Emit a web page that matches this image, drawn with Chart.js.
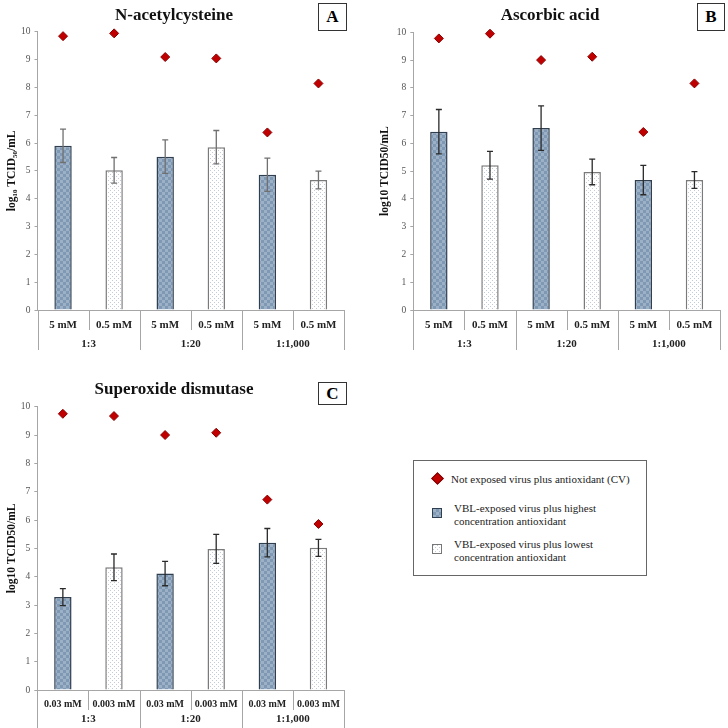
<!DOCTYPE html>
<html>
<head>
<meta charset="utf-8">
<script src="https://cdn.jsdelivr.net/npm/chart.js@4.4.1/dist/chart.umd.min.js"></script>
<style>
body{margin:0;background:#fff;width:728px;height:728px;position:relative;overflow:hidden;font-family:"Liberation Serif",serif}
.panel{position:absolute}
.ttl{position:absolute;font-weight:bold;font-size:17px;transform:translate(-50%,-50%);white-space:nowrap;color:#111}
.tag{position:absolute;border:1.5px solid #333;font-weight:bold;font-size:17px;display:flex;align-items:center;justify-content:center;box-sizing:border-box;background:#fff}
#legend{position:absolute;left:413px;top:460px;width:234px;height:116px;border:1px solid #666;box-sizing:border-box;font-size:11px;color:#222;line-height:12.5px}
#legend .row{position:absolute;left:0;width:100%}
#legend .sw{position:absolute;left:18px;width:10px;height:10px;box-sizing:border-box}
#legend .tx{position:absolute;left:40px}
</style>
</head>
<body>

<div class="panel" style="left:0;top:0"><canvas id="chartA" width="364" height="360"></canvas></div>
<div class="panel" style="left:364px;top:0"><canvas id="chartB" width="364" height="360"></canvas></div>
<div class="panel" style="left:0;top:364px"><canvas id="chartC" width="364" height="364"></canvas></div>

<div class="ttl" style="left:174px;top:15px">N-acetylcysteine</div>
<div class="ttl" style="left:550px;top:15px">Ascorbic acid</div>
<div class="ttl" style="left:174px;top:389px">Superoxide dismutase</div>
<div class="tag" style="left:318px;top:3px;width:29px;height:28px">A</div>
<div class="tag" style="left:697px;top:3px;width:28px;height:28px">B</div>
<div class="tag" style="left:318px;top:382px;width:29px;height:23px">C</div>

<div id="legend">
  <div class="row" style="top:12px">
    <div class="sw" style="left:19px;top:1px;width:9px;height:9px;background:#c00000;border:1px solid #7a0000;transform:rotate(45deg)"></div>
    <div class="tx" style="left:37px">Not exposed virus plus antioxidant (CV)</div>
  </div>
  <div class="row" style="top:41px">
    <div class="sw" id="swHigh" style="top:6px;border:1px solid #2f3f50"></div>
    <div class="tx">VBL-exposed virus plus highest<br>concentration antioxidant</div>
  </div>
  <div class="row" style="top:77px">
    <div class="sw" id="swLow" style="top:6px;border:1px solid #777"></div>
    <div class="tx">VBL-exposed virus plus lowest<br>concentration antioxidant</div>
  </div>
</div>

<script>
// dilution groups and concentrations
var groups = ['1:3', '1:20', '1:1,000'];
var naLabels = ['5 mM', '0.5 mM', '5 mM', '0.5 mM', '5 mM', '0.5 mM'];
var aaLabels = ['5 mM', '0.5 mM', '5 mM', '0.5 mM', '5 mM', '0.5 mM'];
var sodLabels = ['0.03 mM', '0.003 mM', '0.03 mM', '0.003 mM', '0.03 mM', '0.003 mM'];

// A - N-acetylcysteine
var naBars = [5.90, 5.02, 5.51, 5.85, 4.86, 4.67];
var naErr  = [0.60, 0.46, 0.60, 0.60, 0.60, 0.32];
var naCV   = [9.84, 9.94, 9.09, 9.04, 6.38, 8.14];
// B - Ascorbic acid
var aaBars = [6.42, 5.21, 6.55, 4.97, 4.68, 4.68];
var aaErr  = [0.80, 0.50, 0.80, 0.46, 0.53, 0.30];
var aaCV   = [9.78, 9.95, 9.00, 9.12, 6.41, 8.16];
// C - Superoxide dismutase
var sodBars = [3.28, 4.33, 4.11, 4.98, 5.20, 5.02];
var sodErr  = [0.30, 0.47, 0.43, 0.51, 0.50, 0.30];
var sodCV   = [9.75, 9.67, 9.00, 9.08, 6.72, 5.86];

var yMax = 10;

function makePattern(kind) {
    var c = document.createElement('canvas');
    var ctx = c.getContext('2d');
    if (kind == 'checker') {
        c.width = 6; c.height = 6;
        ctx.fillStyle = '#7f98b4';
        ctx.fillRect(0, 0, 6, 6);
        ctx.fillStyle = '#9cb0c6';
        ctx.fillRect(0, 0, 3, 3);
        ctx.fillRect(3, 3, 3, 3);
    } else {
        c.width = 4; c.height = 4;
        ctx.fillStyle = '#ffffff';
        ctx.fillRect(0, 0, 4, 4);
        ctx.fillStyle = '#c3ccd6';
        ctx.fillRect(0, 0, 1, 1);
        ctx.fillRect(2, 2, 1, 1);
    }
    return c;
}
var highCanvas = makePattern('checker');
var lowCanvas = makePattern('dots');
document.getElementById('swHigh').style.background = 'url(' + highCanvas.toDataURL() + ')';
document.getElementById('swLow').style.background = 'url(' + lowCanvas.toDataURL() + ')';

// error bars, category separators and group labels
var extras = {
    id: 'extras',
    afterDatasetsDraw: function(chart) {
        var o = chart.options.plugins.extras;
        var ctx = chart.ctx;
        var y = chart.scales.y;
        var meta = chart.getDatasetMeta(0);
        ctx.save();
        ctx.strokeStyle = o.errColor;
        ctx.lineWidth = 1.3;
        meta.data.forEach(function(bar, i) {
            var v = chart.data.datasets[0].data[i];
            var top = y.getPixelForValue(v + o.errors[i]);
            var bot = y.getPixelForValue(v - o.errors[i]);
            ctx.beginPath();
            ctx.moveTo(bar.x, top); ctx.lineTo(bar.x, bot);
            ctx.moveTo(bar.x - 3, top); ctx.lineTo(bar.x + 3, top);
            ctx.moveTo(bar.x - 3, bot); ctx.lineTo(bar.x + 3, bot);
            ctx.stroke();
        });
        ctx.restore();
    },
    afterDraw: function(chart) {
        var o = chart.options.plugins.extras;
        var ctx = chart.ctx;
        var x = chart.scales.x;
        var area = chart.chartArea;
        var n = chart.data.labels.length;
        var step = (area.right - area.left) / n;
        ctx.save();
        ctx.strokeStyle = '#a6a6a6';
        ctx.lineWidth = 1;
        for (var k = 0; k <= n; k++) {
            var px = Math.round(area.left + k * step) + 0.5;
            ctx.beginPath();
            ctx.moveTo(px, area.bottom);
            ctx.lineTo(px, area.bottom + (k % 2 == 0 ? o.groupDepth : o.subDepth));
            ctx.stroke();
        }
        ctx.fillStyle = '#222';
        ctx.font = 'bold 11px "Liberation Serif"';
        ctx.textAlign = 'center';
        ctx.textBaseline = 'middle';
        groups.forEach(function(g, i) {
            var cx = (x.getPixelForTick(i * 2) + x.getPixelForTick(i * 2 + 1)) / 2;
            ctx.fillText(g, cx, area.bottom + o.groupY);
        });
        ctx.restore();
    }
};

function buildChart(id, labels, bars, errs, cv, yTitle, box, xo) {
    var bg = [], bc = [];
    bars.forEach(function(v, i) {
        var c = document.getElementById(id).getContext('2d');
        bg.push(c.createPattern(i % 2 == 0 ? highCanvas : lowCanvas, 'repeat'));
        bc.push(i % 2 == 0 ? '#2f3f50' : '#7a7a7a');
    });
    return new Chart(document.getElementById(id), {
        type: 'bar',
        data: {
            labels: labels,
            datasets: [{
                type: 'line',
                data: cv,
                showLine: false,
                clip: false,
                pointStyle: 'rectRot',
                pointRadius: 4.5,
                backgroundColor: '#c00000',
                borderColor: '#8a0000',
                borderWidth: 1,
                order: 0
            }, {
                type: 'bar',
                data: bars,
                backgroundColor: bg,
                borderColor: bc,
                borderWidth: 1.5,
                barPercentage: 0.34,
                categoryPercentage: 1,
                order: 1
            }].reverse()
        },
        options: {
            responsive: false,
            animation: false,
            layout: {padding: box.pad},
            plugins: {
                legend: {display: false},
                tooltip: {enabled: false},
                extras: xo
            },
            scales: {
                x: {
                    offset: true,
                    grid: {display: false},
                    border: {color: '#a6a6a6'},
                    ticks: {
                        color: '#222',
                        font: {family: 'Liberation Serif', size: xo.tickSize, weight: 'bold'},
                        padding: xo.tickPad,
                        maxRotation: 0,
                        autoSkip: false
                    },
                    afterFit: function(s) { s.height = box.xh; }
                },
                y: {
                    min: 0,
                    max: yMax,
                    ticks: {
                        stepSize: 1,
                        color: '#555',
                        font: {family: 'Liberation Serif', size: 9.5},
                        padding: 4
                    },
                    grid: {drawOnChartArea: false, tickLength: 3, color: '#a6a6a6'},
                    border: {color: '#a6a6a6'},
                    title: {
                        display: true,
                        text: yTitle,
                        color: '#111',
                        font: {family: 'Liberation Serif', size: 11.5, weight: 'bold'},
                        padding: {top: box.tpad, bottom: 0}
                    },
                    afterFit: function(s) { s.width = box.yw; }
                }
            }
        },
        plugins: [extras]
    });
}

buildChart('chartA', naLabels, naBars, naErr, naCV, 'log\u2081\u2080 TCID\u2085\u2080/mL',
    {pad: {top: 31.7, right: 20, bottom: 10, left: 0}, xh: 40, yw: 37.5, tpad: 5},
    {errors: naErr, errColor: '#707070', subDepth: 20, groupDepth: 40, groupY: 34, tickSize: 11, tickPad: 1});

buildChart('chartB', aaLabels, aaBars, aaErr, aaCV, 'log10 TCID50/mL',
    {pad: {top: 32.3, right: 8, bottom: 10, left: 0}, xh: 40, yw: 49.3, tpad: 14},
    {errors: aaErr, errColor: '#2a2a2a', subDepth: 20, groupDepth: 40, groupY: 34, tickSize: 11, tickPad: 1});

buildChart('chartC', sodLabels, sodBars, sodErr, sodCV, 'log10 TCID50/mL',
    {pad: {top: 42.7, right: 20, bottom: 0, left: 0}, xh: 38, yw: 37.3, tpad: 5},
    {errors: sodErr, errColor: '#2a2a2a', subDepth: 20, groupDepth: 38, groupY: 29, tickSize: 10, tickPad: 0});
</script>
</body>
</html>
